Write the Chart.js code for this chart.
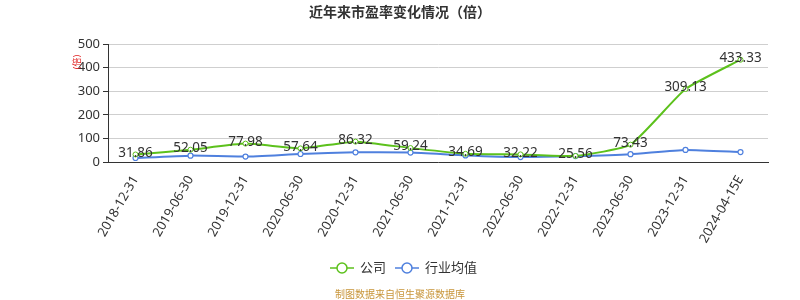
<!DOCTYPE html>
<html>
<head>
<meta charset="utf-8">
<script src="https://cdn.jsdelivr.net/npm/chart.js@4/dist/chart.umd.min.js"></script>
<style>
  html, body { margin: 0; padding: 0; background: #fff; }
  #wrap { width: 800px; height: 300px; }
</style>
</head>
<body>
<div id="wrap"><canvas id="peChart"></canvas></div>
<script>
// data
const categories = ["2018-12-31", "2019-06-30", "2019-12-31", "2020-06-30", "2020-12-31", "2021-06-30",
  "2021-12-31", "2022-06-30", "2022-12-31", "2023-06-30", "2023-12-31", "2024-04-15E"];
const companyPE = [31.86, 52.05, 77.98, 57.64, 86.32, 59.24, 34.69, 32.22, 25.56, 73.43, 309.13, 433.33];
const industryPE = [17, 27, 23, 34, 41, 40, 28, 21, 25, 33, 51, 42];
const yTicks = [0, 100, 200, 300, 400, 500];

const green = "#5cc11c";
const blue = "#4f80de";
const font = "'Noto Sans', 'Noto Sans CJK SC', sans-serif";

// value labels on the company line
const labelPlugin = {
  id: "pointLabels",
  afterDatasetsDraw(chart) {
    const ctx = chart.ctx;
    const meta = chart.getDatasetMeta(0);
    ctx.save();
    ctx.font = "13.5px " + font;
    ctx.fillStyle = "#333";
    ctx.textAlign = "center";
    ctx.textBaseline = "middle";
    meta.data.forEach((pt, i) => {
      ctx.fillText(companyPE[i].toFixed(2), pt.x, pt.y - 1.5);
    });
    ctx.restore();
  }
};

// title, unit, legend and source line
const decorPlugin = {
  id: "decor",
  afterDraw(chart) {
    const ctx = chart.ctx;
    ctx.save();
    ctx.textBaseline = "middle";
    ctx.textAlign = "center";
    ctx.fillStyle = "#333";
    ctx.font = "bold 14px " + font;
    ctx.fillText("近年来市盈率变化情况（倍）", 400, 13);

    ctx.save();
    ctx.translate(77, 62);
    ctx.rotate(-Math.PI / 2);
    ctx.fillStyle = "#e02020";
    ctx.font = "9px " + font;
    ctx.fillText("(倍)", 0, 0);
    ctx.restore();

    const items = [
      { text: "公司", color: green, x: 330 },
      { text: "行业均值", color: blue, x: 395 }
    ];
    ctx.font = "13px " + font;
    ctx.textAlign = "left";
    items.forEach((it) => {
      ctx.strokeStyle = it.color;
      ctx.lineWidth = 1.5;
      ctx.beginPath();
      ctx.moveTo(it.x, 268);
      ctx.lineTo(it.x + 24, 268);
      ctx.stroke();
      ctx.fillStyle = "#fff";
      ctx.beginPath();
      ctx.arc(it.x + 12, 268, 5, 0, Math.PI * 2);
      ctx.fill();
      ctx.stroke();
      ctx.fillStyle = "#333";
      ctx.fillText(it.text, it.x + 30, 268);
    });

    ctx.textAlign = "center";
    ctx.fillStyle = "#c8953a";
    ctx.font = "10px " + font;
    ctx.fillText("制图数据来自恒生聚源数据库", 400, 295);
    ctx.restore();
  }
};

new Chart(document.getElementById("peChart"), {
  type: "line",
  data: {
    labels: categories,
    datasets: [
      {
        label: "公司",
        data: companyPE,
        borderColor: green,
        backgroundColor: "#fff",
        borderWidth: 2,
        pointRadius: 2.5,
        pointBorderWidth: 1,
        tension: 0.15
      },
      {
        label: "行业均值",
        data: industryPE,
        borderColor: blue,
        backgroundColor: "#fff",
        borderWidth: 2,
        pointRadius: 2.5,
        pointBorderWidth: 1.2,
        tension: 0.15
      }
    ]
  },
  options: {
    responsive: true,
    maintainAspectRatio: false,
    animation: false,
    layout: { padding: { top: 44, right: 32, bottom: 55, left: 0 } },
    plugins: {
      legend: { display: false },
      tooltip: { enabled: false }
    },
    scales: {
      x: {
        offset: true,
        afterFit: (s) => { s.height = 83; },
        grid: { display: false, drawOnChartArea: false },
        border: { color: "#333", width: 1 },
        ticks: {
          color: "#333",
          font: { size: 13, family: font },
          minRotation: 60,
          maxRotation: 60,
          autoSkip: false
        }
      },
      y: {
        min: 0,
        max: 500,
        afterFit: (s) => { s.width = 108; },
        afterBuildTicks: (s) => { s.ticks = yTicks.map((v) => ({ value: v })); },
        grid: { color: "#cfcfcf", tickColor: "#333", tickLength: 5 },
        border: { color: "#333", width: 1 },
        ticks: {
          color: "#333",
          font: { size: 13, family: font },
          padding: 3
        }
      }
    }
  },
  plugins: [labelPlugin, decorPlugin]
});
</script>
</body>
</html>
